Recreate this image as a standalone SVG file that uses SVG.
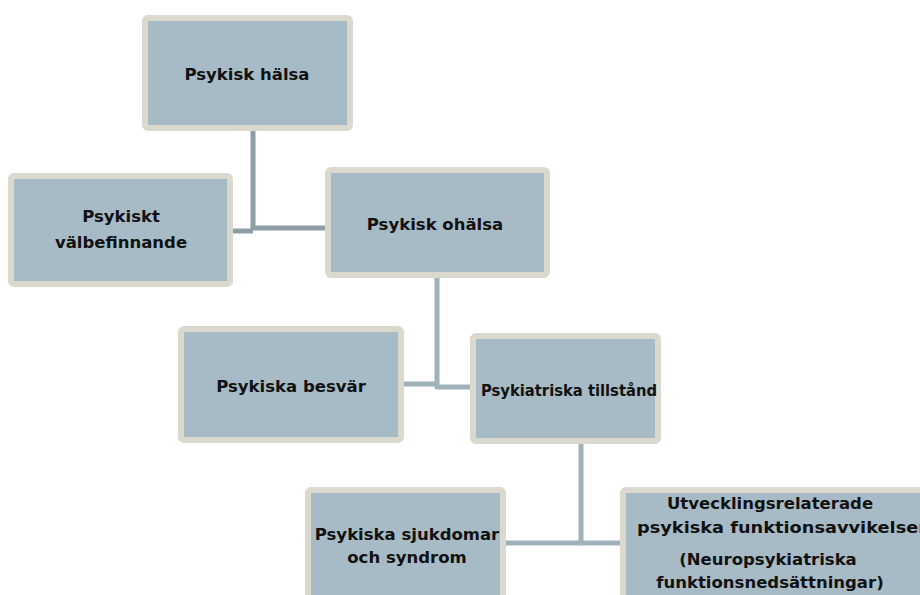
<svg xmlns="http://www.w3.org/2000/svg" width="920" height="595" viewBox="0 0 920 595">
<style>
.box{fill:#a7bbc6;stroke:#dbd9cd;stroke-width:6}
.t{font-family:"DejaVu Sans","Liberation Sans",sans-serif;font-weight:bold;font-size:16.5px;fill:#111;text-anchor:middle}
.c{fill:none;stroke:#8d9ea6;stroke-width:5;stroke-linejoin:round}
.c2{fill:none;stroke:#9fb2bc;stroke-width:5;stroke-linejoin:round}
</style>
<rect width="920" height="595" fill="#fff"/>
<g id="connectors">
<path class="c" d="M253 131 V228 H326"/>
<path class="c" d="M233 231 H253"/>
<path class="c2" d="M437 278 V387 H471"/>
<path class="c2" d="M404 384 H437"/>
<path class="c2" d="M581 443 V543 H621"/>
<path class="c2" d="M505 543 H581"/>
</g>
<g id="n1"><rect class="box" x="145" y="18" width="205" height="110" rx="3"/>
<text class="t" x="247" y="80">Psykisk hälsa</text></g>
<g id="n2"><rect class="box" x="11" y="176" width="219" height="108" rx="3"/>
<text class="t" x="121" y="222">Psykiskt</text><text class="t" x="121" y="248">välbefinnande</text></g>
<g id="n3"><rect class="box" x="328" y="170" width="219" height="105" rx="3"/>
<text class="t" x="435" y="230">Psykisk ohälsa</text></g>
<g id="n4"><rect class="box" x="181" y="329" width="220" height="111" rx="3"/>
<text class="t" x="291" y="392">Psykiska besvär</text></g>
<g id="n5"><rect class="box" x="473" y="336" width="185" height="105" rx="3"/>
<text class="t" x="569" y="396" textLength="176" lengthAdjust="spacingAndGlyphs">Psykiatriska tillstånd</text></g>
<g id="n6"><rect class="box" x="308" y="490" width="195" height="120" rx="3"/>
<text class="t" x="407" y="540">Psykiska sjukdomar</text><text class="t" x="407" y="563">och syndrom</text></g>
<g id="n7"><rect class="box" x="623" y="490" width="310" height="120" rx="3"/>
<text class="t" x="770" y="509">Utvecklingsrelaterade</text>
<text class="t" x="782" y="533" textLength="290" lengthAdjust="spacingAndGlyphs">psykiska funktionsavvikelser</text>
<text class="t" x="768" y="565">(Neuropsykiatriska</text>
<text class="t" x="770" y="588">funktionsnedsättningar)</text></g>
</svg>
